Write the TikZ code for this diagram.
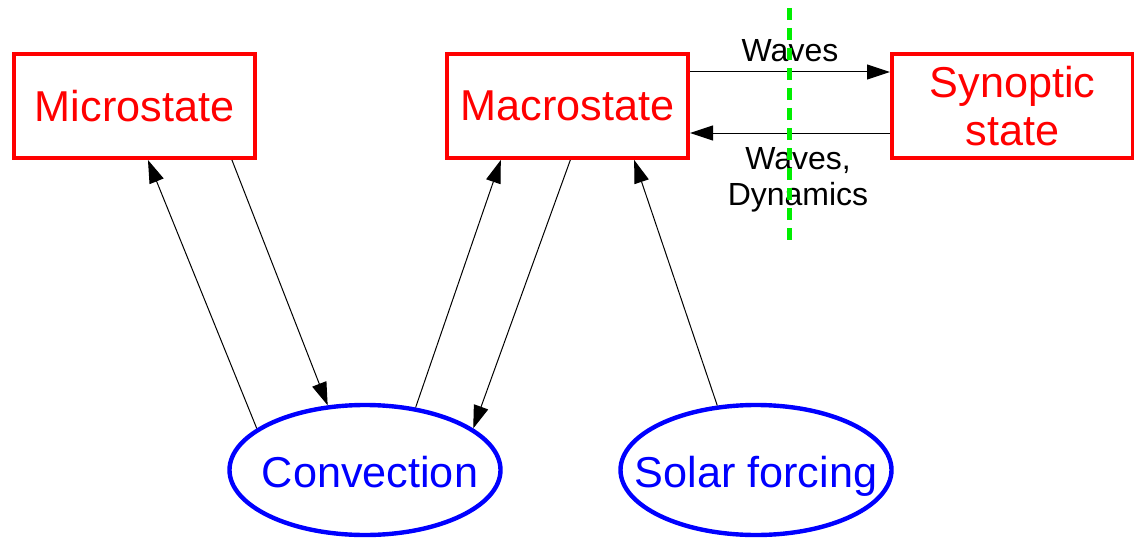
\documentclass[tikz,border=0pt]{standalone}
\usepackage{fontspec}
\setmainfont{Liberation Sans}
\usepackage{xcolor}
\usepackage{tikz}
\usetikzlibrary{arrows.meta,positioning,shapes.geometric}
\definecolor{statered}{HTML}{FF0000}
\definecolor{driveblue}{HTML}{0000FF}
\definecolor{cutgreen}{HTML}{00EE00}

\begin{document}
\begin{tikzpicture}[
  x=0.5pt,y=-0.5pt,
  statebox/.style={draw=statered,text=statered,line width=2pt,minimum width=120.5pt,minimum height=52pt,align=center,font=\fontsize{21.6}{24}\selectfont},
  driver/.style={ellipse,draw=driveblue,text=driveblue,line width=2.2pt,minimum width=135.5pt,minimum height=65pt,inner xsep=-14pt,inner ysep=0pt,text height=17pt,text depth=0pt,font=\fontsize{21.6}{24}\selectfont},
  arr/.style={-{Triangle[length=11.5pt,width=7.5pt]},line width=0.5pt,draw=black},
  lbl/.style={font=\fontsize{16}{18}\selectfont,align=center,inner sep=0pt}
]
\useasboundingbox (0,0) rectangle (1134,540);
\node[statebox] (micro) at (134.5,106) {Microstate};
\node[statebox,right=94pt of micro] (macro) {Macrostate};
\node[statebox,right=100pt of macro] (syn) {Synoptic\\state};
\node[driver] (conv) at (365,470) {\hspace*{5pt}Convection};
\node[driver] (solar) at (756,470) {Solar forcing};
\draw[arr] (micro.-29) -- (conv.120);
\draw[arr] (conv.159) -- (micro.-76);
\draw[arr] (conv.51) -- (macro.219);
\draw[arr] (macro.-87) -- (conv.21);
\draw[arr] (solar.121) -- (macro.-39);
\draw[arr] ([yshift=17pt]macro.east) -- node[lbl,above=5pt] {Waves} ([yshift=17pt]syn.west);
\draw[arr] ([yshift=-13.5pt]syn.west) -- node[lbl,below=7pt,xshift=4pt] {Waves,\\Dynamics} ([yshift=-13.5pt]macro.east);
\coordinate (cuttop) at (789,8);
\coordinate (cutbot) at (789,240);
\draw[cutgreen,line width=2.5pt,dash pattern=on 6pt off 4pt] (cuttop) -- (cutbot);
\end{tikzpicture}
\end{document}
